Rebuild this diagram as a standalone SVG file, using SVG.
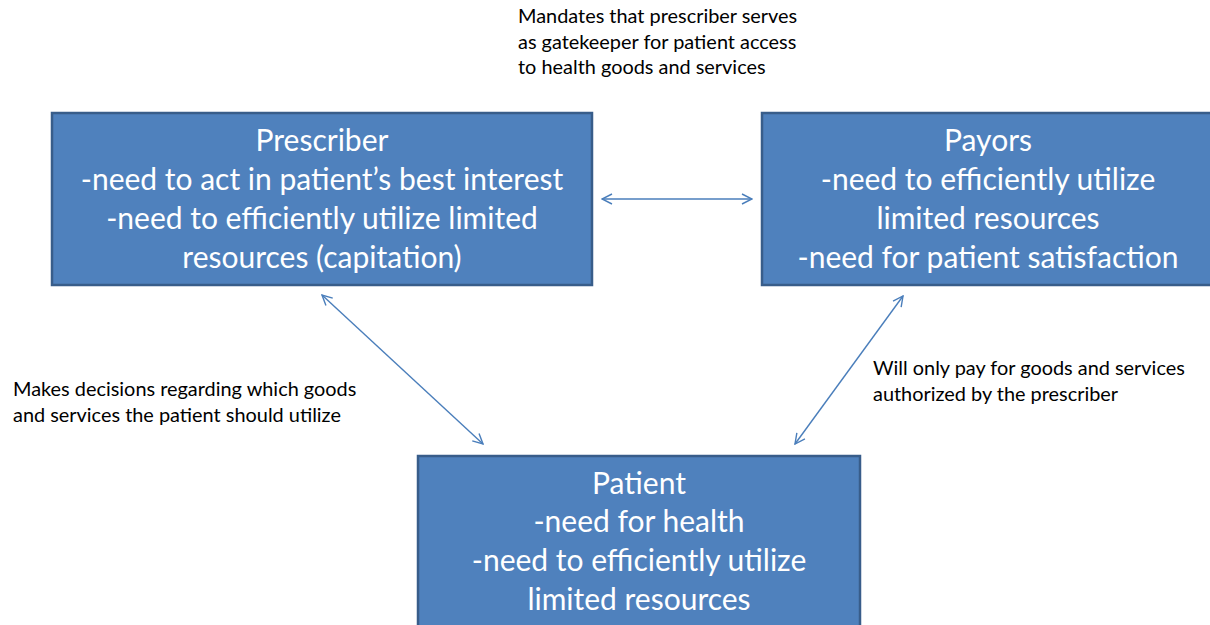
<svg xmlns="http://www.w3.org/2000/svg" width="1210" height="625" viewBox="0 0 1210 625">
<style>
.box{fill:#4F81BD;stroke:#385D8A;stroke-width:2.5}
.bt{font-family:Lato,"Liberation Sans",sans-serif;font-size:30px;fill:#FFFFFF;text-anchor:middle}
.lt{font-family:Lato,"Liberation Sans",sans-serif;font-size:19.9px;fill:#000000}
.con{stroke:#4A7EBB;stroke-width:1.4;fill:none}
</style>
<defs>
<marker id="ah" viewBox="0 0 12 12" refX="11" refY="6" markerWidth="12" markerHeight="12" markerUnits="userSpaceOnUse" orient="auto-start-reverse">
<path d="M1,1 L11,6 L1,11" fill="none" stroke="#4A7EBB" stroke-width="1.4"/>
</marker>
</defs>
<rect width="1210" height="625" fill="#FFFFFF"/>
<g id="connectors">
<line class="con" x1="602" y1="199" x2="752" y2="199" marker-start="url(#ah)" marker-end="url(#ah)"/>
<line class="con" x1="322" y1="295" x2="483" y2="444" marker-start="url(#ah)" marker-end="url(#ah)"/>
<line class="con" x1="903" y1="296" x2="795" y2="444" marker-start="url(#ah)" marker-end="url(#ah)"/>
</g>
<g id="prescriber">
<rect class="box" x="52" y="113" width="540" height="172"/>
<text class="bt" x="322" y="151">Prescriber</text>
<text class="bt" x="322" y="190">-need to act in patient’s best interest</text>
<text class="bt" x="322" y="229">-need to efficiently utilize limited</text>
<text class="bt" x="322" y="268">resources (capitation)</text>
</g>
<g id="payors">
<rect class="box" x="762" y="113" width="460" height="172"/>
<text class="bt" x="988" y="151">Payors</text>
<text class="bt" x="988" y="190">-need to efficiently utilize</text>
<text class="bt" x="988" y="229">limited resources</text>
<text class="bt" x="988" y="268">-need for patient satisfaction</text>
</g>
<g id="patient">
<rect class="box" x="418" y="456" width="442" height="190"/>
<text class="bt" x="639" y="494">Patient</text>
<text class="bt" x="639" y="532">-need for health</text>
<text class="bt" x="639" y="571">-need to efficiently utilize</text>
<text class="bt" x="639" y="610">limited resources</text>
</g>
<g id="labels">
<text class="lt" x="518" y="23">Mandates that prescriber serves</text>
<text class="lt" x="518" y="49">as gatekeeper for patient access</text>
<text class="lt" x="518" y="74">to health goods and services</text>
<text class="lt" x="13" y="396">Makes decisions regarding which goods</text>
<text class="lt" x="13" y="422">and services the patient should utilize</text>
<text class="lt" x="873" y="375">Will only pay for goods and services</text>
<text class="lt" x="873" y="401">authorized by the prescriber</text>
</g>
</svg>
